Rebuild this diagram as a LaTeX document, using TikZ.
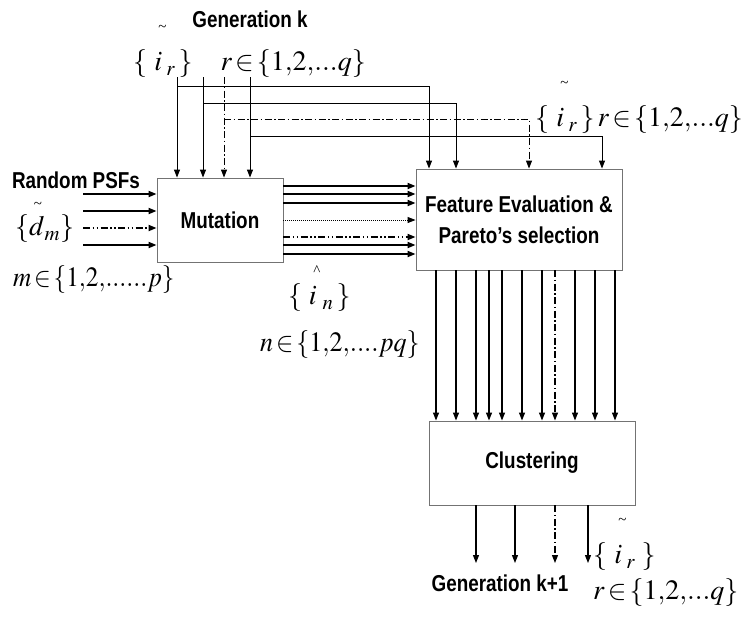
\documentclass[tikz,border=0pt]{standalone}
\usepackage{amsmath}
\usepackage{graphicx}
\usepackage{mathptmx}
\usepackage[no-math]{fontspec}
\setmainfont{Liberation Sans}
\newfontfamily\narrowfam[FakeStretch=0.82]{Liberation Sans}
\newfontfamily\accfam{Liberation Serif}
\usetikzlibrary{arrows.meta}
\newcommand{\accfont}{\accfam\fontsize{15}{15}\selectfont}
\newcommand{\acctilde}[3]{\smash{\overset{\hspace{#3}\raisebox{#2}{\accfont\char"7E}}{#1}}}
\newcommand{\acchat}[3]{\smash{\overset{\hspace{#3}\raisebox{#2}{\accfont\char"5E}}{#1}}}
\newcommand{\tset}[1]{\thickmuskip=2mu plus 1mu\relax #1}
\tikzset{
  boxst/.style={draw=black!55, line width=0.9pt, fill=white, inner sep=0pt},
  lab/.style={font=\narrowfam\bfseries\fontsize{23}{31}\selectfont, inner sep=0pt, align=center},
  mlab/.style={font=\fontsize{28}{30}\selectfont, inner sep=0pt, anchor=west},
  arr/.style={-{Triangle[length=8pt,width=6pt]}},
  thinl/.style={line width=0.9pt, arr},
  thickl/.style={line width=1.8pt, arr},
  midl/.style={line width=1.2pt, arr},
  dashdot1/.style={dash pattern=on 7pt off 2.5pt on 1.5pt off 2.5pt},
  dashdot2/.style={dash pattern=on 7pt off 2.5pt on 1.5pt off 2.5pt on 1.5pt off 2.5pt},
  fdot/.style={dash pattern=on 1pt off 1pt}
}
\begin{document}
\begin{tikzpicture}[x=1pt,y=-1pt]
\useasboundingbox[fill=white] (0,0) rectangle (742,619);
% boxes
\node[boxst, minimum width=126pt, minimum height=84pt] (mut) at (220,220) {};
\node[boxst, minimum width=206pt, minimum height=101pt] (feat) at (519,219.5) {};
\node[boxst, minimum width=206pt, minimum height=84pt] (clu) at (532,463) {};
\node[lab] (mutt) at (mut.center) {Mutation};
\node[lab] (featt) at (feat.center) {Feature Evaluation \&\\Pareto’s selection};
\node[lab] (clut) at (clu.center) {Clustering};
% text labels
\node[lab] (genk) at (250,19) {Generation k};
\node[lab] (rpsf) at (76,180) {Random PSFs};
\node[lab] (genk1) at (500,583) {Generation k+1};
% math labels
\node[mlab] (topir) at (133,64) {$\tset{\{\,\acctilde{i}{16pt}{8pt}_r\;\}\hspace{28pt} r\in\{1{,}2{,}...q\}}$};
\node[mlab] (rightir) at (535,120) {$\tset{\{\,\acctilde{i}{16pt}{8pt}_r\;\}\; r\in\{1{,}2{,}...q\}}$};
\node[mlab] (dm) at (15,229) {$\{\acctilde{d}{3pt}{2pt}_m\}$};
\node[mlab] (mset) at (13,280) {\scalebox{0.9}[1]{$\tset{m\in\{1{,}2{,}......p\}}$}};
\node[mlab] (in) at (288,298) {$\{\,\acchat{i}{6pt}{8pt}_{\,n}\,\}$};
\node[mlab] (nset) at (260,345) {\scalebox{0.93}[1]{$\tset{n\in\{1{,}2{,}....pq\}}$}};
\node[mlab] (botir) at (593,557) {$\{\,\acctilde{i}{16pt}{8pt}_r\;\}$};
\node[mlab] (botr) at (593,593) {$\tset{r\in\{1{,}2{,}...q\}}$};
% top inputs
\coordinate (a1) at (177,77);
\coordinate (a2) at (203,77);
\coordinate (a3) at (224,77);
\coordinate (a4) at (250,77);
\draw[thinl] (a1) -- (a1 |- mut.north);
\draw[thinl] (a2) -- (a2 |- mut.north);
\draw[thinl,dashdot1] (a3) -- (a3 |- mut.north);
\draw[thinl] (a4) -- (a4 |- mut.north);
\coordinate (b1) at (177,86);
\coordinate (b2) at (203,103);
\coordinate (b3) at (224,119);
\coordinate (b4) at (250,136);
\draw[thinl] (b1) -| (429,0 |- feat.north);
\draw[thinl] (b2) -| (456,0 |- feat.north);
\draw[thinl,dashdot1] (b3) -| (529,0 |- feat.north);
\draw[thinl] (b4) -| (602,0 |- feat.north);
% left inputs
\coordinate (l1) at (83,194);
\coordinate (l2) at (83,211);
\coordinate (l3) at (83,228);
\coordinate (l4) at (83,245);
\draw[thickl] (l1) -- (l1 -| mut.west);
\draw[thickl] (l2) -- (l2 -| mut.west);
\draw[thickl,dashdot2] (l3) -- (l3 -| mut.west);
\draw[thickl] (l4) -- (l4 -| mut.west);
% mutation to feature
\foreach \yy in {186,194,203,245,254}
  \draw[thickl] (mut.east |- 0,\yy) -- (feat.west |- 0,\yy);
\draw[thinl,fdot] (mut.east |- 0,220) -- (feat.west |- 0,220);
\draw[thickl,dashdot2] (mut.east |- 0,237) -- (feat.west |- 0,237);
% feature to clustering
\foreach \xx in {436,456,476,489,502,522,542,575,595,615}
  \draw[midl] (\xx,0 |- feat.south) -- (\xx,0 |- clu.north);
\draw[midl,dashdot1] (555,0 |- feat.south) -- (555,0 |- clu.north);
% clustering outputs
\coordinate (o1) at (476,563);
\coordinate (o2) at (515,563);
\coordinate (o3) at (555,563);
\coordinate (o4) at (588,563);
\draw[midl] (o1 |- clu.south) -- (o1);
\draw[midl] (o2 |- clu.south) -- (o2);
\draw[midl,dashdot1] (o3 |- clu.south) -- (o3);
\draw[midl] (o4 |- clu.south) -- (o4);
\end{tikzpicture}
\end{document}
